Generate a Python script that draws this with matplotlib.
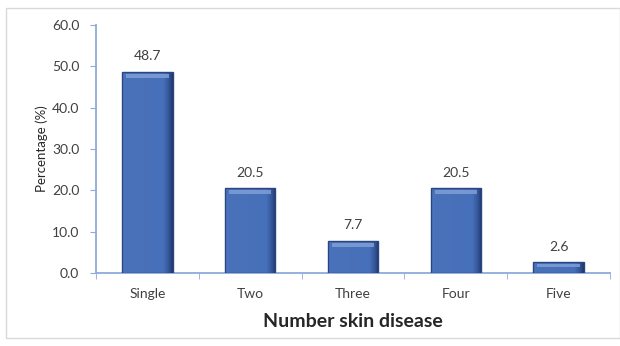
import matplotlib
matplotlib.use("Agg")
import matplotlib.pyplot as plt
import numpy as np
from matplotlib.patches import Rectangle
from matplotlib.colors import LinearSegmentedColormap

categories = ["Single", "Two", "Three", "Four", "Five"]
values = [48.7, 20.5, 7.7, 20.5, 2.6]
yticks = [0, 10, 20, 30, 40, 50, 60]

plt.rcParams['font.family'] = ['Lato', 'DejaVu Sans']

fig = plt.figure(figsize=(6.2, 3.46), dpi=100)
fig.patch.set_facecolor('white')
fig.add_artist(Rectangle((6/620, 8/346), 1 - 6/620, 1 - 16/346, transform=fig.transFigure,
                         fill=False, edgecolor='#d9d9d9', linewidth=1))

ax = fig.add_axes([96/620, 1 - 273/346, 514/620, (273 - 25)/346])
x = list(range(len(categories)))
bw = 0.49
bars = ax.bar(x, values, width=bw, color='#4a72bb', edgecolor='#2a4680', linewidth=1.0, zorder=3)

cmap = LinearSegmentedColormap.from_list(
    'bev', [(0, '#5077bf'), (0.06, '#4a72bb'), (0.82, '#4670b9'), (0.92, '#35569a'), (1, '#1f3868')])
grad = np.linspace(0, 1, 200).reshape(1, -1)
for b in bars:
    x0 = b.get_x()
    h = b.get_height()
    im = ax.imshow(grad, cmap=cmap, aspect='auto', extent=(x0, x0 + bw, 0, h), zorder=3.5,
                   interpolation='bilinear')
    im.set_clip_path(b)
    band_top = h - 0.5
    band_h = min(1.0, h * 0.25)
    ax.add_patch(Rectangle((x0 + bw * 0.08, band_top - band_h), bw * 0.84, band_h,
                           facecolor='#7f9fd6', edgecolor='none', zorder=4, alpha=0.85))
    b.set_zorder(5)
    b.set_facecolor('none')

for xi, v in zip(x, values):
    ax.annotate(f"{v:.1f}", (xi, v), xytext=(0, 7), textcoords='offset points',
                ha='center', va='bottom', fontsize=10, color='#404040')

ax.set_xlim(-0.5, len(categories) - 0.5)
ax.set_ylim(0, 60)
ax.set_yticks(yticks)
ax.set_yticklabels([f"{t:.1f}" for t in yticks], fontsize=10, color='#404040')
ax.set_xticks(x)
ax.set_xticklabels(categories, fontsize=10, color='#404040')
ax.tick_params(axis='x', length=0, pad=11)
ax.tick_params(axis='y', length=4, color='#8eaadb', pad=8)
ax.set_xticks([i + 0.5 for i in range(-1, len(categories))], minor=True)
ax.tick_params(axis='x', which='minor', length=4, color='#8eaadb')

for s in ['top', 'right']:
    ax.spines[s].set_visible(False)
for s in ['left', 'bottom']:
    ax.spines[s].set_color('#8eaadb')
    ax.spines[s].set_linewidth(1.3)

ax.set_ylabel("Percentage (%)", fontsize=9.5, color='#262626', labelpad=3)
ax.set_xlabel("Number skin disease", fontsize=14, fontweight='bold', color='#262626', labelpad=9)

fig.savefig("out.png", dpi=100)
